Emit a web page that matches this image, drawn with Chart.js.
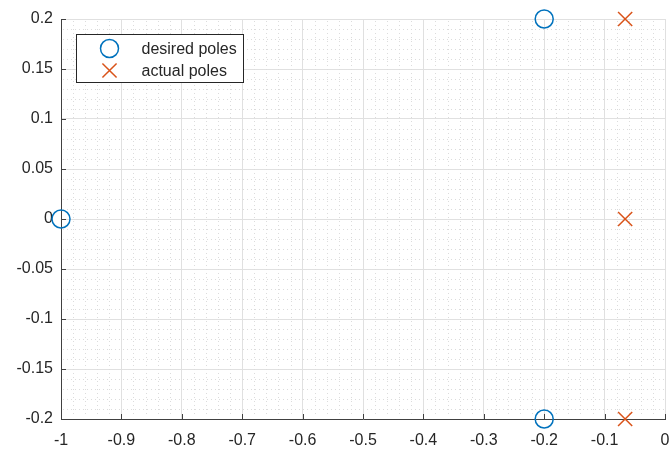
<!DOCTYPE html>
<html>
<head>
<meta charset="utf-8">
<script src="https://cdn.jsdelivr.net/npm/chart.js"></script>
<style>
    html, body { margin: 0; padding: 0; background: #fff; overflow: hidden; }
    canvas { display: block; }
</style>
</head>
<body>
<canvas id="poleChart" width="669" height="450"></canvas>
<script>
/* Pole map: desired vs actual closed-loop poles. */
var desiredReal = [-1, -0.2, -0.2];
var desiredImag = [0, 0.2, -0.2];
var actualReal = [-0.066, -0.066, -0.066];
var actualImag = [0.2, 0, -0.2];
var seriesLabels = ["desired poles", "actual poles"];

var xMin = -1, xMax = 0, xStep = 0.1, xMinorStep = 0.02;
var yMin = -0.2, yMax = 0.2, yStep = 0.05, yMinorStep = 0.01;

var FONT = "'Liberation Sans', Arial, Helvetica, sans-serif";
var BLUE = "#0072BD";
var ORANGE = "#D95319";

function toPoints(xs, ys) {
    return xs.map(function (x, i) { return { x: x, y: ys[i] }; });
}

function fmt(v) {
    return String(Math.round(v * 100) / 100);
}

// Dotted minor grid and inward major ticks, like a MATLAB axes.
var minorGrid = {
    id: "minorGrid",
    beforeDatasetsDraw: function (chart) {
        var ctx = chart.ctx;
        var area = chart.chartArea;
        var xs = chart.scales.x, ys = chart.scales.y;
        ctx.save();
        ctx.strokeStyle = "#dcdcdc";
        ctx.lineWidth = 1;
        ctx.setLineDash([1, 3]);
        var n, v, p;
        for (n = 1; n * xMinorStep < (xMax - xMin) - 1e-9; n++) {
            if (n % 5 === 0) continue;
            v = xMin + n * xMinorStep;
            p = Math.round(xs.getPixelForValue(v)) + 0.5;
            ctx.beginPath();
            ctx.moveTo(p, area.top + 2);
            ctx.lineTo(p, area.bottom - 2);
            ctx.stroke();
        }
        for (n = 1; n * yMinorStep < (yMax - yMin) - 1e-9; n++) {
            if (n % 5 === 0) continue;
            v = yMin + n * yMinorStep;
            p = Math.round(ys.getPixelForValue(v)) + 0.5;
            ctx.beginPath();
            ctx.moveTo(area.left + 2, p);
            ctx.lineTo(area.right - 1, p);
            ctx.stroke();
        }
        ctx.setLineDash([]);
        ctx.strokeStyle = "#404040";
        xs.ticks.forEach(function (t) {
            p = Math.round(xs.getPixelForValue(t.value)) + 0.5;
            ctx.beginPath();
            ctx.moveTo(p, area.bottom);
            ctx.lineTo(p, area.bottom - 5);
            ctx.stroke();
        });
        ys.ticks.forEach(function (t) {
            p = Math.round(ys.getPixelForValue(t.value)) + 0.5;
            ctx.beginPath();
            ctx.moveTo(area.left, p);
            ctx.lineTo(area.left + 5, p);
            ctx.stroke();
        });
        ctx.restore();
    }
};

// Boxed legend inside the top-left of the plot.
var boxLegend = {
    id: "boxLegend",
    afterDraw: function (chart) {
        var ctx = chart.ctx;
        var area = chart.chartArea;
        var bx = Math.round(area.left + 15) + 0.5;
        var by = Math.round(area.top + 15) + 0.5;
        var bw = 167, bh = 48;
        ctx.save();
        ctx.fillStyle = "#fff";
        ctx.strokeStyle = "#262626";
        ctx.lineWidth = 1;
        ctx.fillRect(bx, by, bw, bh);
        ctx.strokeRect(bx, by, bw, bh);
        ctx.font = "16px " + FONT;
        ctx.textBaseline = "middle";
        ctx.textAlign = "left";
        chart.data.datasets.forEach(function (ds, i) {
            var cx = bx + 33;
            var cy = by + 14 + i * 22;
            ctx.strokeStyle = ds.borderColor;
            ctx.lineWidth = ds.borderWidth;
            ctx.beginPath();
            if (ds.pointStyle === "circle") {
                ctx.arc(cx, cy, ds.pointRadius, 0, Math.PI * 2);
            } else {
                var d = ds.pointRadius * Math.SQRT1_2;
                ctx.moveTo(cx - d, cy - d);
                ctx.lineTo(cx + d, cy + d);
                ctx.moveTo(cx - d, cy + d);
                ctx.lineTo(cx + d, cy - d);
            }
            ctx.stroke();
            ctx.fillStyle = "#262626";
            ctx.fillText(ds.label, bx + 65, cy + 1);
        });
        ctx.restore();
    }
};

new Chart(document.getElementById("poleChart"), {
    type: "scatter",
    data: {
        datasets: [
            {
                label: seriesLabels[0],
                data: toPoints(desiredReal, desiredImag),
                pointStyle: "circle",
                pointRadius: 9,
                borderWidth: 1.5,
                borderColor: BLUE,
                backgroundColor: "rgba(0,0,0,0)",
                clip: false
            },
            {
                label: seriesLabels[1],
                data: toPoints(actualReal, actualImag),
                pointStyle: "crossRot",
                pointRadius: 10,
                borderWidth: 1.5,
                borderColor: ORANGE,
                backgroundColor: ORANGE,
                clip: false
            }
        ]
    },
    options: {
        responsive: false,
        devicePixelRatio: 1,
        animation: false,
        events: [],
        layout: {
            autoPadding: false,
            padding: { top: 19, right: 4, left: 0, bottom: 0 }
        },
        plugins: { legend: { display: false }, tooltip: { enabled: false } },
        scales: {
            x: {
                type: "linear",
                min: xMin,
                max: xMax,
                afterFit: function (s) {
                    s.height = 31;
                    s.paddingLeft = 0;
                    s.paddingRight = 0;
                },
                grid: { color: "#e0e0e0", drawTicks: false },
                border: { color: "#404040", width: 1 },
                ticks: {
                    stepSize: xStep,
                    padding: 12,
                    color: "#262626",
                    font: { size: 16, family: FONT },
                    maxRotation: 0,
                    callback: fmt
                }
            },
            y: {
                type: "linear",
                min: yMin,
                max: yMax,
                afterFit: function (s) {
                    s.width = 61;
                    s.paddingTop = 0;
                    s.paddingBottom = 0;
                },
                grid: { color: "#e0e0e0", drawTicks: false },
                border: { color: "#404040", width: 1 },
                ticks: {
                    stepSize: yStep,
                    padding: 8,
                    color: "#262626",
                    font: { size: 16, family: FONT },
                    callback: fmt
                }
            }
        }
    },
    plugins: [minorGrid, boxLegend]
});
</script>
</body>
</html>
